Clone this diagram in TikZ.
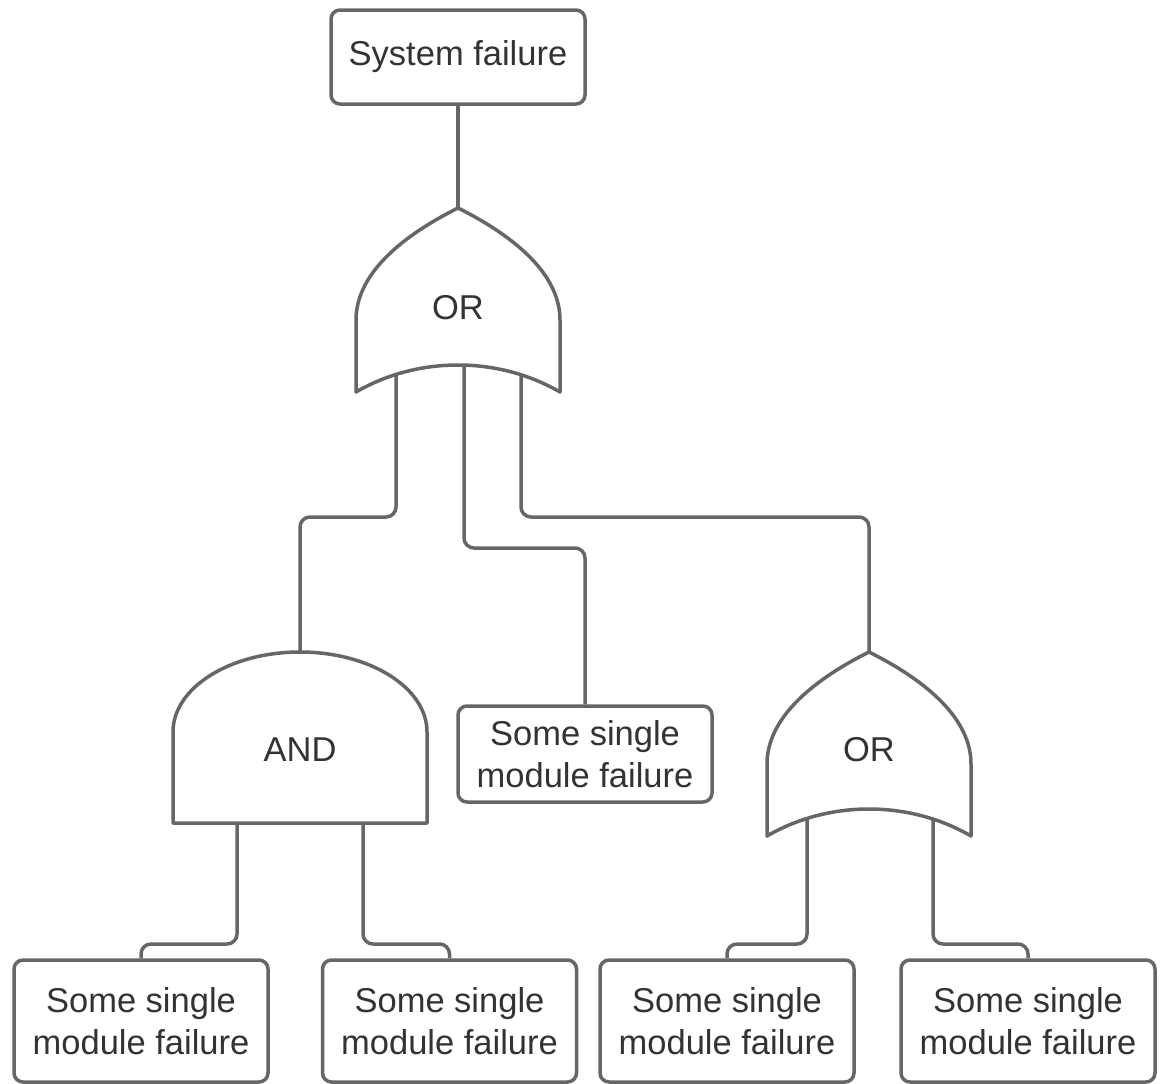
\documentclass[tikz,border=0pt]{standalone}
\usepackage{fontspec}
\setmainfont{Liberation Sans}
\definecolor{linegray}{HTML}{666666}
\definecolor{textgray}{HTML}{333333}
\tikzset{
  x=1pt, y=-1pt,
  wire/.style={draw=linegray, line width=3.5pt, rounded corners=10pt},
  gate/.style={draw=linegray, line width=3.5pt, fill=white, line join=round},
  eventbox/.style={draw=linegray, line width=3.5pt, rounded corners=9pt, fill=white,
    minimum width=254pt, inner sep=0pt, align=center, text=textgray,
    font=\fontsize{34.5}{42}\selectfont},
  gatelabel/.style={text=textgray, inner sep=0pt, font=\fontsize{34.5}{42}\selectfont},
  orgate/.pic={
    \path[gate] (0,0) .. controls (-60,30) and (-102,68) .. (-102,112)
      -- (-102,184) .. controls (-40,148) and (40,148) .. (102,184)
      -- (102,112) .. controls (102,68) and (60,30) .. (0,0) -- cycle;
  },
  andgate/.pic={
    \path[gate] (-127,171) -- (-127,80) .. controls (-127,35.8) and (-70.1,0) .. (0,0)
      .. controls (70.1,0) and (127,35.8) .. (127,80) -- (127,171) -- cycle;
  }
}
\begin{document}
\begin{tikzpicture}
\useasboundingbox (0,0) rectangle (1162,1084);

% events
\node[eventbox, minimum height=94pt] (sys) at (458,57) {System failure};
\node[eventbox, minimum height=96pt] (mid) at (585,754) {Some single\\module failure};
\node[eventbox, minimum height=122pt] (b1) at (141,1021) {Some single\\module failure};
\node[eventbox, minimum height=122pt] (b2) at (449.5,1021) {Some single\\module failure};
\node[eventbox, minimum height=122pt] (b3) at (727,1021) {Some single\\module failure};
\node[eventbox, minimum height=122pt] (b4) at (1028,1021) {Some single\\module failure};

% gate anchors
\coordinate (or1top) at (458,208);
\coordinate (andtop) at (300,652);
\coordinate (or2top) at (869,652);
\coordinate (or1a) at (396,365);
\coordinate (or1b) at (464,365);
\coordinate (or1c) at (521,365);
\coordinate (anda) at (237,823);
\coordinate (andb) at (363,823);
\coordinate (or2a) at (807,805);
\coordinate (or2b) at (933,805);

% connectors
\draw[wire] (sys.south) -- (or1top);
\draw[wire] (or1a) -- (396,517) -| (andtop);
\draw[wire] (or1b) -- (464,548) -| (mid.north);
\draw[wire] (or1c) -- (521,517) -| (or2top);
\draw[wire] (anda) -- (237,944) -| (b1.north);
\draw[wire] (andb) -- (363,944) -| (b2.north);
\draw[wire] (or2a) -- (807,944) -| (b3.north);
\draw[wire] (or2b) -- (933,944) -| (b4.north);

% gates
\pic at (or1top) {orgate};
\pic at (andtop) {andgate};
\pic at (or2top) {orgate};
\node[gatelabel] (or1) at (458,308) {OR};
\node[gatelabel] (and1) at (300,750) {AND};
\node[gatelabel] (or2) at (869,750) {OR};
\end{tikzpicture}
\end{document}
